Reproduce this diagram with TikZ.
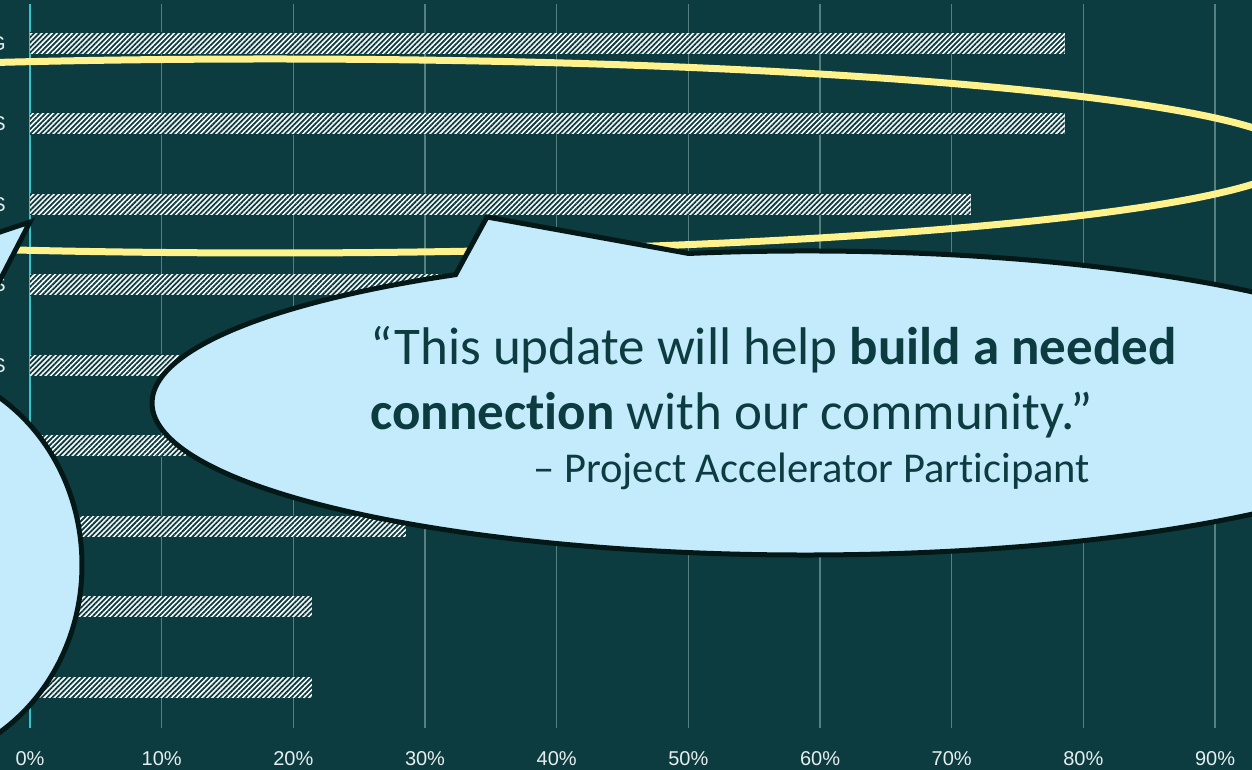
\documentclass[tikz,border=0pt]{standalone}
\usepackage{fontspec}
\setmainfont{Carlito}[Ligatures=NoCommon]
\newfontfamily\axisfont{Liberation Sans}
\usetikzlibrary{patterns.meta}
\definecolor{bgc}{RGB}{12,60,64}
\definecolor{gridc}{RGB}{86,128,128}
\definecolor{zeroc}{RGB}{53,196,204}
\definecolor{bubblec}{RGB}{195,235,252}
\definecolor{edgec}{RGB}{4,24,24}
\definecolor{loopc}{RGB}{255,242,140}
\definecolor{labc}{RGB}{230,238,238}
\begin{document}
\begin{tikzpicture}[x=1pt,y=1pt,
  gridline/.style={draw=gridc, line width=1.5pt},
  zeroline/.style={draw=zeroc, line width=1.5pt},
  barbox/.style={fill=white, postaction={pattern={Lines[angle=45,distance=3.6pt,line width=1.8pt]}, pattern color=bgc}},
  loopline/.style={draw=loopc, line width=7pt},
  bubble/.style={fill=bubblec, draw=edgec, line width=5pt, line join=miter},
  axislab/.style={font=\axisfont\fontsize{20}{24}\selectfont, text=labc, inner sep=0pt, anchor=base},
  catlab/.style={font=\axisfont\fontsize{20}{24}\selectfont, text=labc, inner sep=0pt, anchor=east},
  quote/.style={font=\fontsize{53}{63}\selectfont, text=bgc, inner sep=0pt, anchor=base west},
  attrib/.style={font=\fontsize{42.5}{50}\selectfont, text=bgc, inner sep=0pt, anchor=base east}]
\useasboundingbox (0,0) rectangle (1252,770);
\fill[bgc] (0,0) rectangle (1252,770);
\begin{scope}
\clip (0,0) rectangle (1252,770);
% gridlines
\foreach \k in {1,...,9}
  \draw[gridline] ({30+\k*131.67},766) -- ({30+\k*131.67},42);
\draw[zeroline] (30,766) -- (30,42);
% bars (row centre in pixels, end x in pixels)
\foreach \r/\v in {1/1064.6, 2/1064.6, 3/970.5, 4/594, 5/500, 6/500, 7/406, 8/312, 9/312}
  \fill[barbox] (30,{770-(43.5+80.5*(\r-1))-10.5}) rectangle (\v,{770-(43.5+80.5*(\r-1))+10.5});
% cut-off category labels
\node[catlab] (c1) at (6,{770-43.5}) {G};
\node[catlab] (c2) at (6,{770-124}) {S};
\node[catlab] (c3) at (6,{770-204.5}) {S};
\node[catlab] (c4) at (6,{770-285}) {S};
\node[catlab] (c5) at (6,{770-365.5}) {S};
% yellow loop
\coordinate (lc) at (270,614);
\draw[loopline] (lc) ellipse [x radius=1027, y radius=97];
% left bubble
\coordinate (lbc) at (-100,205);
\coordinate (lbt) at (30,548);
\draw[bubble] (lbc) ellipse [x radius=182, y radius=200];
\draw[bubble] (lbt) -- (-200,471) -- (-150,340) -- (-48,397) -- cycle;
% main bubble
\coordinate (mc) at (806,367);
\coordinate (mt) at (487,553);
\draw[bubble] (mc) ++(100.35:654 and 152) arc[start angle=100.35, end angle=-237.6, x radius=654, y radius=152] -- (mt) -- cycle;
% quote
\node[quote] (q1) at (370,405) {“This update will help \textbf{build a needed}};
\node[quote] (q2) at (370,340) {\textbf{connection} with our community.”};
\node[attrib] (q3) at (1090,287) {– Project Accelerator Participant};
\end{scope}
% axis labels
\foreach \k/\t in {0/0\%,1/10\%,2/20\%,3/30\%,4/40\%,5/50\%,6/60\%,7/70\%,8/80\%,9/90\%}
  \node[axislab] (ax\k) at ({30+\k*131.67},4) {\t};
\end{tikzpicture}
\end{document}
